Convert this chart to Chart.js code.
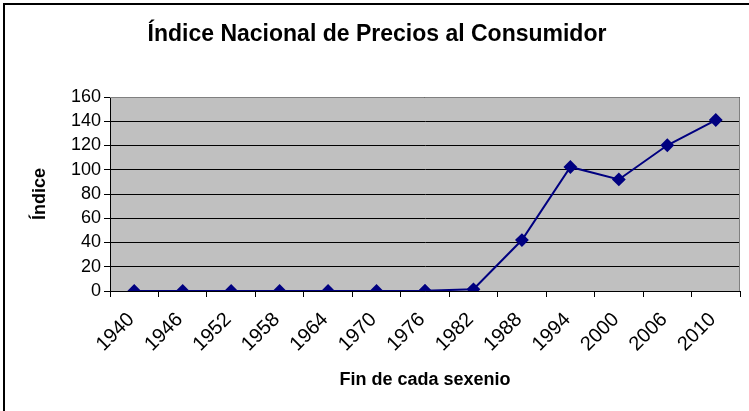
<!DOCTYPE html>
<html>
<head>
<meta charset="utf-8">
<script src="https://cdn.jsdelivr.net/npm/chart.js@4"></script>
<style>
    html, body { margin: 0; padding: 0; background: #fff; }
    #wrap { width: 749px; height: 411px; }
</style>
</head>
<body>
<div id="wrap"><canvas id="myChart" width="749" height="411"></canvas></div>
<script>
const years = ["1940", "1946", "1952", "1958", "1964", "1970", "1976", "1982", "1988", "1994", "2000", "2006", "2010"];
const inpc = [0, 0, 0, 0, 0.1, 0.1, 0.2, 1.4, 42, 102.3, 92, 120.2, 141];
const yTicks = [0, 20, 40, 60, 80, 100, 120, 140, 160];

const chartTitle = "Índice Nacional de Precios al Consumidor";
const xTitle = "Fin de cada sexenio";
const yTitle = "Índice";

// gray plot area, frame around the whole chart, title
const plotBack = {
    id: "plotBack",
    beforeDraw(chart) {
        const { ctx, chartArea: a } = chart;
        ctx.save();
        ctx.fillStyle = "#fff";
        ctx.fillRect(0, 0, chart.width, chart.height);
        ctx.fillStyle = "#c0c0c0";
        ctx.fillRect(a.left, a.top, a.right - a.left, a.bottom - a.top);
        ctx.strokeStyle = "#000";
        ctx.lineWidth = 2;
        ctx.strokeRect(4, 4, chart.width + 20, chart.height + 20);
        ctx.fillStyle = "#000";
        ctx.font = "bold 23px 'Liberation Sans', Arial, sans-serif";
        ctx.textAlign = "center";
        ctx.textBaseline = "middle";
        ctx.fillText(chartTitle, 377, 35);
        ctx.restore();
    },
    beforeDatasetsDraw(chart) {
        const { ctx, chartArea: a } = chart;
        ctx.save();
        ctx.strokeStyle = "#808080";
        ctx.lineWidth = 1;
        ctx.beginPath();
        ctx.moveTo(a.left, a.top + 0.5);
        ctx.lineTo(a.right - 0.5, a.top + 0.5);
        ctx.lineTo(a.right - 0.5, a.bottom);
        ctx.stroke();
        ctx.restore();
    }
};

Chart.defaults.font.family = "'Liberation Sans', Arial, sans-serif";
Chart.defaults.color = "#000";

new Chart(document.getElementById("myChart"), {
    type: "line",
    data: {
        labels: years,
        datasets: [{
            data: inpc,
            borderColor: "#000080",
            borderWidth: 2,
            backgroundColor: "#000080",
            pointStyle: "rectRot",
            pointRadius: 5.5,
            pointBackgroundColor: "#000080",
            pointBorderColor: "#000080",
            tension: 0
        }]
    },
    options: {
        responsive: false,
        animation: false,
        layout: { padding: { left: 0, right: 9, top: 97, bottom: 0 } },
        plugins: {
            legend: { display: false },
            tooltip: { enabled: false },
            title: { display: false }
        },
        scales: {
            x: {
                offset: true,
                grid: {
                    offset: true,
                    drawOnChartArea: false,
                    drawTicks: true,
                    tickLength: 6,
                    color: "#000"
                },
                border: { color: "#000", width: 1 },
                ticks: {
                    font: { size: 20 },
                    minRotation: 45,
                    maxRotation: 45,
                    autoSkip: false,
                    padding: 11,
                    labelOffset: -3
                },
                title: {
                    display: true,
                    text: xTitle,
                    font: { size: 18, weight: "bold" },
                    padding: { top: 0, bottom: 20 }
                },
                afterFit(scale) { scale.height = 120; }
            },
            y: {
                min: 0,
                max: 160,
                afterBuildTicks(scale) {
                    scale.ticks = yTicks.map(v => ({ value: v }));
                },
                grid: {
                    color: "#000",
                    tickLength: 6,
                    drawTicks: true
                },
                border: { color: "#000", width: 1 },
                ticks: {
                    font: { size: 18 },
                    padding: 3,
                    autoSkip: false
                },
                title: {
                    display: true,
                    text: yTitle,
                    font: { size: 18, weight: "bold" },
                    padding: { top: 29, bottom: 0 }
                },
                afterFit(scale) { scale.width = 110; }
            }
        }
    },
    plugins: [plotBack]
});
</script>
</body>
</html>
